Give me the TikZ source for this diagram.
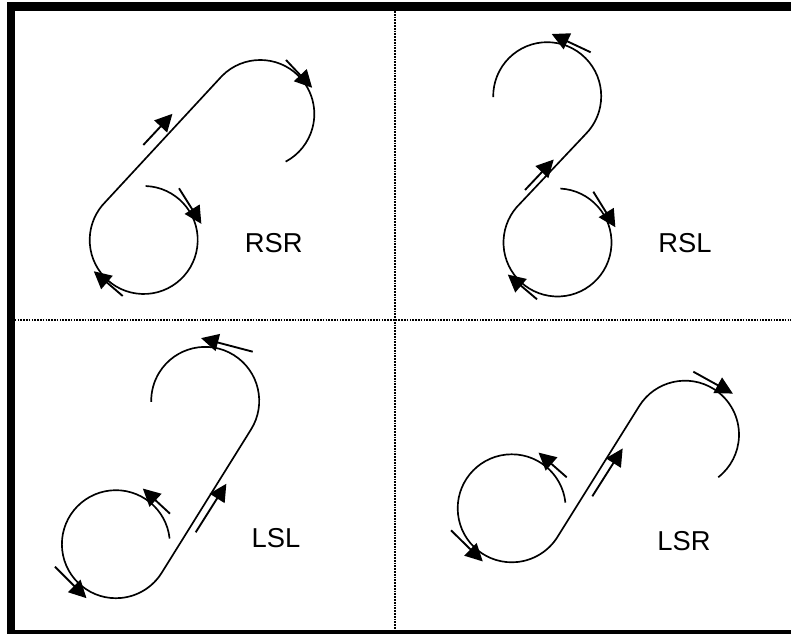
\documentclass[tikz,border=0pt]{standalone}
\usepackage{fontspec}
\setmainfont{Liberation Sans}
\usetikzlibrary{calc,arrows.meta}
\tikzset{
  path/.style={line width=1.25pt,black},
  flow/.style={line width=1.4pt,black,-{Triangle[length=13pt,width=13pt]},shorten >=-0.5pt},
  grid/.style={line width=1.5pt,black,dash pattern=on 1.3pt off 0.8pt},
  lab/.style={font=\fontsize{20.5}{24}\selectfont}
}
\begin{document}
\begin{tikzpicture}[x=0.75pt,y=0.75pt]
    \useasboundingbox (0,0) rectangle (791,634);
    % frame
    \fill[black] (7.3,0) rectangle (14.7,632);
    \fill[black] (7.3,623) rectangle (791,631.7);
    \fill[black] (7.3,0) rectangle (791,4);
    \draw[grid] (395,623) -- (395,4);
    \draw[grid] (14.7,313.5) -- (791,313.5);

    % RSR
    \coordinate (c11) at (143.7,394);
    \coordinate (c12) at (260.3,520);
    \draw[path] ($(c11)+(88:54)$) arc[start angle=88,end angle=-225,radius=54]
      -- ($(c12)+(135:54)$) arc[start angle=135,end angle=-62,radius=54];
    \draw[flow] (286,574) -- (311.7,546.7);
    \draw[flow] (143.3,489) -- (172,519.7);
    \draw[flow] (179,445.7) -- (201,410.7);
    \draw[flow] (122.7,338) -- (94.3,362.3);
    \node[lab] (rsr) at (273.7,390.7) {RSR};

    % RSL
    \coordinate (c21) at (557.5,391.5);
    \coordinate (c22) at (547.2,537.8);
    \draw[path] ($(c21)+(87:54)$) arc[start angle=87,end angle=-226,radius=54]
      -- ($(c22)+(-45:54)$) arc[start angle=-45,end angle=181,radius=54];
    \draw[flow] (590.7,581.7) -- (552.3,599.7);
    \draw[flow] (525,444) -- (553.3,474);
    \draw[flow] (593.3,442.3) -- (615,407.3);
    \draw[flow] (537,334.7) -- (508.3,359);
    \node[lab] (rsl) at (685,391.3) {RSL};

    % LSL
    \coordinate (c31) at (115.9,89.8);
    \coordinate (c32) at (205.2,233.1);
    \draw[path] ($(c31)+(6:54)$) arc[start angle=6,end angle=328,radius=54]
      -- ($(c32)+(-32:54)$) arc[start angle=-32,end angle=181,radius=54];
    \draw[flow] (252.7,282.3) -- (201.7,295.7);
    \draw[flow] (195.7,101.7) -- (226,149.7);
    \draw[flow] (170,120.3) -- (143.3,145);
    \draw[flow] (55,67.3) -- (86,36.3);
    \node[lab] (lsl) at (276,96) {LSL};

    % LSR
    \coordinate (c41) at (511.7,125.7);
    \coordinate (c42) at (685,199.3);
    \draw[path] ($(c41)+(6:54)$) arc[start angle=6,end angle=328,radius=54]
      -- ($(c42)+(148:54)$) arc[start angle=148,end angle=-52,radius=54];
    \draw[flow] (693.3,262.3) -- (732.3,240.7);
    \draw[flow] (592.3,137.7) -- (622.3,185);
    \draw[flow] (566.7,156.7) -- (539,181);
    \draw[flow] (451,103.7) -- (482.3,73);
    \node[lab] (lsr) at (684,93) {LSR};
\end{tikzpicture}
\end{document}
